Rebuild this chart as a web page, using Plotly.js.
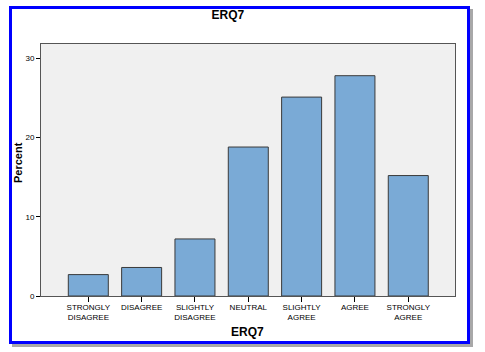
<!DOCTYPE html>
<html><head><meta charset="utf-8">
<script src="https://cdn.plot.ly/plotly-3.0.1.min.js"></script>
<style>
html,body{margin:0;padding:0;background:#fff;}
#wrap{position:relative;width:485px;height:352px;}
#chart{width:485px;height:352px;}
#frame{position:absolute;left:9px;top:6px;width:455px;height:332px;border:3px solid #0000ff;box-shadow:3px 3px 0 #a8a8a8;pointer-events:none;}
</style></head>
<body>
<div id="wrap"><div id="chart"></div><div id="frame"></div></div>
<script>
const categories = ["STRONGLY<br>DISAGREE","DISAGREE","SLIGHTLY<br>DISAGREE","NEUTRAL","SLIGHTLY<br>AGREE","AGREE","STRONGLY<br>AGREE"];
const percents = [2.7, 3.6, 7.2, 18.8, 25.1, 27.8, 15.2];
const yTicks = [0, 10, 20, 30];

const trace = {
  type: 'bar',
  x: categories.map((c,i)=>i),
  y: percents,
  marker: {color: '#7aaad6', line: {color: '#3a3a3a', width: 1}},
  hoverinfo: 'none'
};
const F = 'Liberation Sans, Arial';
const layout = {
  width: 485, height: 352,
  margin: {l: 41, r: 30, t: 44, b: 56},
  paper_bgcolor: '#ffffff',
  plot_bgcolor: '#f0f0f0',
  bargap: 0.25,
  showlegend: false,
  title: {text: '<b>ERQ7</b>', x: 0.47, xanchor: 'center', y: 0.957, yanchor: 'middle',
          font: {family: F, size: 12, color: '#000'}},
  xaxis: {
    range: [-0.887, 6.876],
    tickmode: 'array', tickvals: categories.map((c,i)=>i), ticktext: categories,
    ticks: 'outside', ticklen: 5, tickcolor: '#000', tickwidth: 1,
    ticklabelstandoff: -2,
    showgrid: false, zeroline: false,
    showline: true, linecolor: '#555', linewidth: 1, mirror: true,
    tickfont: {family: F, size: 8, color: '#000'}
  },
  yaxis: {
    range: [0, 31.8],
    tickmode: 'array', tickvals: yTicks, ticktext: yTicks.map(String),
    ticks: 'outside', ticklen: 4, tickcolor: '#000', tickwidth: 1,
    showgrid: false, zeroline: false,
    showline: true, linecolor: '#555', linewidth: 1, mirror: true,
    tickfont: {family: F, size: 8, color: '#000'}
  },
  annotations: [
    {text: '<b>ERQ7</b>', xref: 'paper', yref: 'paper', x: (247-41)/414, y: (296-332)/252,
     xanchor: 'center', yanchor: 'middle', showarrow: false, font: {family: F, size: 12, color: '#000'}},
    {text: '<b>Percent</b>', xref: 'paper', yref: 'paper', x: (18-41)/414, y: (296-163)/252,
     xanchor: 'center', yanchor: 'middle', textangle: -90, showarrow: false, font: {family: F, size: 11, color: '#000'}}
  ]
};
Plotly.newPlot('chart', [trace], layout, {displayModeBar: false, staticPlot: true});
</script>
</body></html>
